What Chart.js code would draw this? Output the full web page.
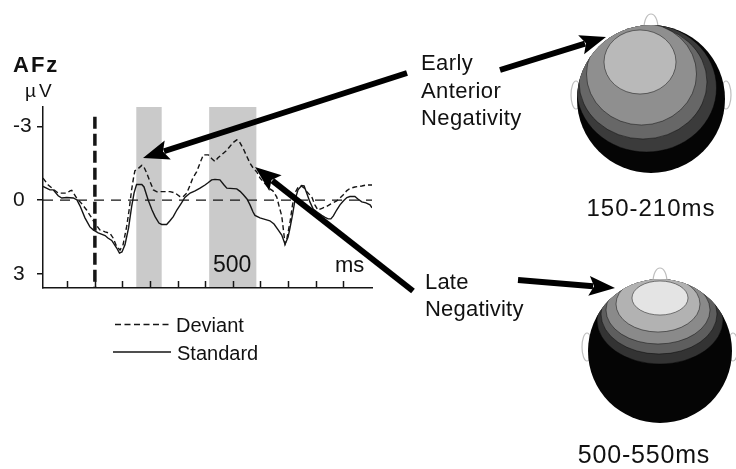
<!DOCTYPE html>
<html>
<head>
<meta charset="utf-8">
<script src="https://cdn.jsdelivr.net/npm/chart.js@4.4.0/dist/chart.umd.min.js"></script>
<style>
  html, body { margin: 0; padding: 0; background: #fff; }
  #wrap { position: relative; width: 736px; height: 469px; overflow: hidden;
          font-family: "Liberation Sans", Arial, sans-serif; color: #111; }
  .lbl { position: absolute; white-space: nowrap; line-height: 1; }
</style>
</head>
<body>
<div id="wrap">
  <canvas id="erpChart"></canvas>
  <div class="lbl" style="left:13px;top:54px;font-size:22px;font-weight:bold;letter-spacing:2px;">AFz</div>
  <div class="lbl" style="left:25px;top:81px;font-size:19px;letter-spacing:3px;">µV</div>
  <div class="lbl" style="left:213px;top:253px;font-size:23px;">500</div>
  <div class="lbl" style="left:335px;top:254px;font-size:22px;">ms</div>
  <div class="lbl" style="left:176px;top:315px;font-size:20px;">Deviant</div>
  <div class="lbl" style="left:177px;top:343px;font-size:20px;">Standard</div>
  <div class="lbl" style="left:421px;top:49px;font-size:22px;line-height:27.7px;letter-spacing:0.4px;">Early<br>Anterior<br>Negativity</div>
  <div class="lbl" style="left:425px;top:268px;font-size:22px;line-height:27.4px;letter-spacing:0.2px;">Late<br>Negativity</div>
  <div class="lbl" style="left:571px;width:160px;text-align:center;top:196px;font-size:24px;letter-spacing:1px;">150-210ms</div>
  <div class="lbl" style="left:564px;width:160px;text-align:center;top:442px;font-size:25px;letter-spacing:0.8px;">500-550ms</div>
</div>
<script>
// time (ms) and amplitude (µV)
const STD_TIMES = [-188, -163, -151, -133, -120, -102, -78, -65, -54, -36,
    -18, -6, 12, 37, 47, 61, 79, 89, 98, 109,
    115, 122, 133, 142, 151, 170, 178, 193, 207, 218,
    232, 242, 260, 272, 284, 297, 314, 326, 345, 363,
    381, 399, 410, 423, 435, 453, 468, 478, 514, 526,
    538, 551, 562, 573, 580, 598, 616, 634, 649, 664,
    677, 689, 700, 707, 716, 725, 736, 749, 758, 767,
    779, 791, 805, 822, 834, 845, 855, 864, 876, 888,
    900, 913, 924, 942, 953, 967, 982, 997, 1004];
const STD_UV = [-0.56, -0.42, -0.42, -0.18, -0.09, -0.11, -0.09, -0.01, 0.23, 0.72,
    1.09, 1.21, 1.33, 1.44, 1.54, 1.64, 1.95, 2.16, 2.11, 1.82,
    1.50, 1.13, 0.27, -0.30, -0.64, -0.64, -0.54, -0.01, 0.40, 0.67,
    0.93, 0.99, 0.99, 0.84, 0.67, 0.40, 0.11, -0.11, -0.29, -0.38,
    -0.49, -0.62, -0.71, -0.83, -0.85, -0.83, -0.62, -0.49, -0.46, -0.36,
    -0.22, -0.05, 0.19, 0.48, 0.62, 0.72, 0.78, 0.84, 0.97, 1.21,
    1.42, 1.80, 1.50, 1.13, 0.60, -0.01, -0.42, -0.60, -0.58, -0.30,
    0.07, 0.36, 0.48, 0.62, 0.70, 0.76, 0.76, 0.64, 0.40, 0.19,
    0.03, -0.11, -0.15, -0.15, -0.05, 0.07, 0.11, 0.19, 0.31];

const DEV_TIMES = [-188, -169, -152, -133, -102, -90, -84, -76, -66, -50,
    -30, -14, 0, 18, 37, 55, 66, 79, 91, 102,
    115, 124, 133, 140, 145, 156, 170, 176, 188, 200,
    212, 225, 236, 272, 290, 308, 319, 333, 345, 355,
    369, 381, 393, 411, 424, 435, 446, 459, 475, 489,
    500, 514, 522, 538, 551, 562, 573, 586, 598, 610,
    624, 634, 645, 659, 667, 677, 683, 689, 696, 707,
    716, 725, 736, 747, 758, 768, 786, 797, 808, 823,
    840, 855, 876, 888, 900, 912, 924, 942, 967, 982, 1004];
const DEV_UV = [-0.90, -0.62, -0.46, -0.29, -0.29, -0.38, -0.40, -0.26, -0.08, 0.11,
    0.40, 0.68, 0.94, 1.21, 1.29, 1.35, 1.54, 1.89, 2.03, 1.82,
    1.08, 0.40, -0.42, -0.91, -1.20, -1.28, -1.42, -1.40, -1.10, -0.75,
    -0.42, -0.34, -0.35, -0.35, -0.30, -0.15, -0.13, -0.29, -0.62, -0.91,
    -1.16, -1.52, -1.85, -1.85, -1.69, -1.58, -1.73, -1.85, -2.01, -2.19,
    -2.34, -2.46, -2.42, -2.09, -1.77, -1.51, -1.32, -1.16, -0.91, -0.75,
    -0.58, -0.46, -0.38, -0.13, 0.23, 0.64, 1.21, 1.78, 1.54, 0.89,
    0.19, -0.30, -0.52, -0.58, -0.50, -0.34, -0.13, 0.19, 0.40, 0.33,
    0.25, 0.15, 0.03, -0.09, -0.22, -0.38, -0.48, -0.54, -0.58, -0.62, -0.62];

const WINDOWS_MS = [[150, 242], [414, 585]];
const X_TICKS = [-100, 0, 100, 200, 300, 400, 500, 600, 700, 800, 900];
const Y_TICKS = [-3, 0, 3];

const INK = '#151515';

function toPoints(times, values) {
    return times.map((t, i) => ({ x: t, y: values[i] }));
}

function drawArrow(ctx, x0, y0, x1, y1) {
    const ang = Math.atan2(y1 - y0, x1 - x0);
    const cos = Math.cos(ang), sin = Math.sin(ang);
    const headLen = 26, headHalf = 10;
    const bx = x1 - headLen * cos, by = y1 - headLen * sin;
    ctx.lineWidth = 6;
    ctx.beginPath();
    ctx.moveTo(x0, y0);
    ctx.lineTo(bx + 4 * cos, by + 4 * sin);
    ctx.stroke();
    ctx.beginPath();
    ctx.moveTo(x1, y1);
    ctx.lineTo(bx - headHalf * sin, by + headHalf * cos);
    ctx.lineTo(bx + 5 * cos, by + 5 * sin);
    ctx.lineTo(bx + headHalf * sin, by - headHalf * cos);
    ctx.closePath();
    ctx.fill();
}

function drawHead(ctx, cx, cy, r, layers) {
    ctx.save();
    ctx.strokeStyle = '#bdbdbd';
    ctx.fillStyle = '#fff';
    ctx.lineWidth = 1.2;
    // nose
    ctx.beginPath();
    ctx.moveTo(cx - 7, cy - r + 4);
    ctx.bezierCurveTo(cx - 7, cy - r - 16, cx + 7, cy - r - 16, cx + 7, cy - r + 4);
    ctx.fill(); ctx.stroke();
    // ears
    [-1, 1].forEach((s) => {
        ctx.beginPath();
        ctx.ellipse(cx + s * (r + 1), cy - 4, 5, 14, 0, 0, Math.PI * 2);
        ctx.fill(); ctx.stroke();
    });
    ctx.beginPath();
    ctx.arc(cx, cy, r, 0, Math.PI * 2);
    ctx.fillStyle = '#050505';
    ctx.fill();
    ctx.clip();
    layers.forEach((l) => {
        ctx.beginPath();
        ctx.ellipse(cx + l.dx, cy + l.dy, l.rx, l.ry, 0, 0, Math.PI * 2);
        ctx.fillStyle = l.c;
        ctx.fill();
        ctx.strokeStyle = 'rgba(0,0,0,0.45)';
        ctx.lineWidth = 1;
        ctx.stroke();
    });
    ctx.restore();
}

const decorations = {
    id: 'decorations',
    beforeDatasetsDraw(chart) {
        const { ctx, chartArea, scales: { x, y } } = chart;
        ctx.save();
        ctx.fillStyle = '#cacaca';
        WINDOWS_MS.forEach(([a, b]) => {
            const x0 = x.getPixelForValue(a);
            const x1 = x.getPixelForValue(b);
            ctx.fillRect(x0, chartArea.top, x1 - x0, chartArea.bottom - chartArea.top - 1);
        });

        // baseline
        const y0 = y.getPixelForValue(0);
        ctx.strokeStyle = INK;
        ctx.lineWidth = 1.2;
        ctx.setLineDash([10, 7]);
        ctx.beginPath();
        ctx.moveTo(chartArea.left, y0);
        ctx.lineTo(chartArea.right, y0);
        ctx.stroke();

        // stimulus onset
        const xs = x.getPixelForValue(0);
        ctx.lineWidth = 3.5;
        ctx.setLineDash([12, 5]);
        ctx.beginPath();
        ctx.moveTo(xs, y.getPixelForValue(-3.4));
        ctx.lineTo(xs, chartArea.bottom);
        ctx.stroke();
        ctx.restore();
    },
    afterDraw(chart) {
        const { ctx, chartArea, scales: { x } } = chart;
        ctx.save();
        ctx.strokeStyle = INK;
        ctx.fillStyle = INK;

        // inward x ticks
        ctx.lineWidth = 1.5;
        X_TICKS.forEach((t) => {
            const px = Math.round(x.getPixelForValue(t)) + 0.5;
            ctx.beginPath();
            ctx.moveTo(px, chartArea.bottom);
            ctx.lineTo(px, chartArea.bottom - 7);
            ctx.stroke();
        });

        // legend samples
        ctx.lineWidth = 1.3;
        ctx.setLineDash([6, 3.5]);
        ctx.beginPath(); ctx.moveTo(115, 324.5); ctx.lineTo(171, 324.5); ctx.stroke();
        ctx.setLineDash([]);
        ctx.beginPath(); ctx.moveTo(113, 352); ctx.lineTo(171, 352); ctx.stroke();

        // scalp maps
        drawHead(ctx, 651, 99, 74, [
            { dx: -4.5, dy: -11, rx: 70, ry: 64, c: '#3b3b3b' },
            { dx: -8, dy: -17, rx: 64, ry: 57, c: '#676767' },
            { dx: -9.5, dy: -25, rx: 55, ry: 51, c: '#8f8f8f' },
            { dx: -11, dy: -37, rx: 36, ry: 32, c: '#b9b9b9' },
        ]);
        drawHead(ctx, 660, 351, 72, [
            { dx: 0, dy: -31, rx: 63, ry: 44, c: '#333333' },
            { dx: -1, dy: -37, rx: 58, ry: 40, c: '#5e5e5e' },
            { dx: -2, dy: -41, rx: 52, ry: 34, c: '#8a8a8a' },
            { dx: -2, dy: -47, rx: 42, ry: 28, c: '#b2b2b2' },
            { dx: 0, dy: -53, rx: 28, ry: 17, c: '#e4e4e4' },
        ]);

        // annotation arrows
        ctx.fillStyle = '#000';
        ctx.strokeStyle = '#000';
        drawArrow(ctx, 407, 73, 143, 158);
        drawArrow(ctx, 500, 70, 606, 37);
        drawArrow(ctx, 413, 291, 255, 167);
        drawArrow(ctx, 518, 280, 615, 288);
        ctx.restore();
    },
};

new Chart(document.getElementById('erpChart'), {
    type: 'line',
    data: {
        datasets: [
            {
                label: 'Deviant',
                data: toPoints(DEV_TIMES, DEV_UV),
                borderColor: INK,
                borderWidth: 1.4,
                borderDash: [5, 3],
                pointRadius: 0,
                tension: 0,
            },
            {
                label: 'Standard',
                data: toPoints(STD_TIMES, STD_UV),
                borderColor: INK,
                borderWidth: 1.4,
                pointRadius: 0,
                tension: 0,
            },
        ],
    },
    options: {
        responsive: true,
        maintainAspectRatio: false,
        animation: false,
        events: [],
        layout: { padding: { left: 13, top: 107, right: 364, bottom: 181 } },
        plugins: { legend: { display: false }, tooltip: { enabled: false } },
        scales: {
            x: {
                type: 'linear',
                min: -188,
                max: 1004,
                afterFit: (scale) => { scale.height = 0; },
                ticks: { display: false },
                grid: { display: false },
                border: { display: true, color: INK, width: 1.5 },
            },
            y: {
                type: 'linear',
                reverse: true,
                min: -3.8,
                max: 3.58,
                afterFit: (scale) => { scale.width = 30; },
                afterBuildTicks: (scale) => { scale.ticks = Y_TICKS.map((v) => ({ value: v })); },
                ticks: {
                    color: INK,
                    padding: 2,
                    crossAlign: 'far',
                    font: { family: 'Liberation Sans', size: 21 },
                    callback: (v) => String(v),
                },
                grid: { drawOnChartArea: false, drawTicks: true, tickLength: 6, color: INK, lineWidth: 1.5 },
                border: { display: true, color: INK, width: 1.5 },
            },
        },
    },
    plugins: [decorations],
});
</script>
</body>
</html>
